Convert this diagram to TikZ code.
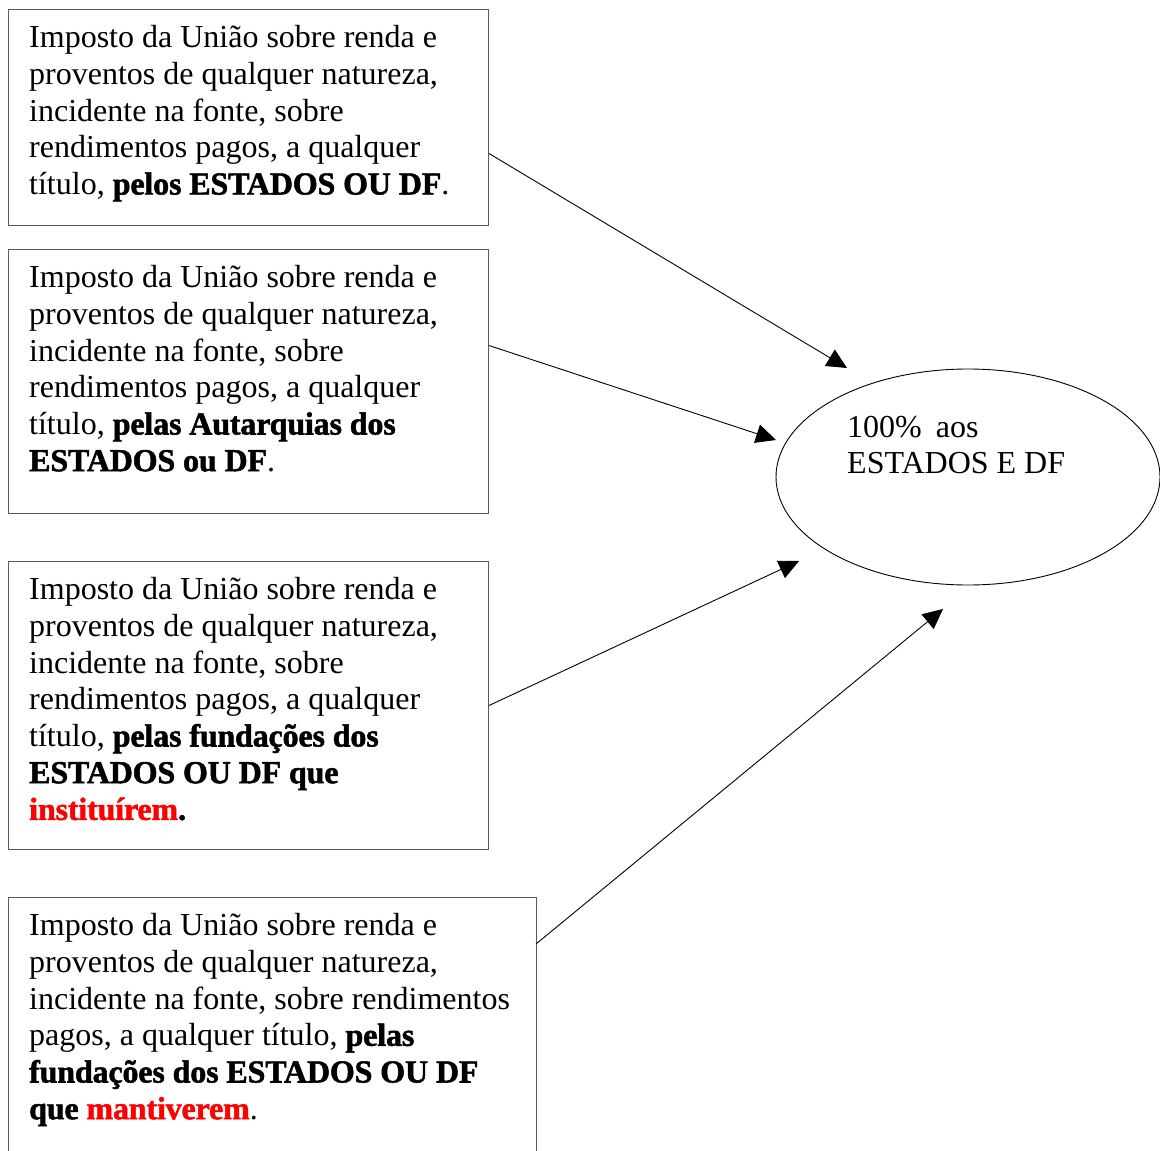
\documentclass[tikz,border=0pt]{standalone}
\usepackage{fontspec}
\setmainfont{Liberation Serif}
\usetikzlibrary{arrows.meta,shapes.geometric}
\definecolor{boxgray}{HTML}{5A5A5A}
\definecolor{redtxt}{HTML}{FF0000}
\newfontface\heavyface{Liberation Serif Bold}[FakeBold=1.6,LetterSpace=-0.5]
\newcommand{\hv}[1]{{\heavyface #1}}
\begin{document}
\begin{tikzpicture}[x=1pt,y=-1pt,
  boxnode/.style={draw=boxgray,line width=1pt,rectangle,anchor=north west,inner sep=0pt},
  txt/.style={anchor=north west,inner sep=0pt,align=left,font=\fontsize{32}{36.7}\selectfont},
  arr/.style={line width=0.9pt,-{Triangle[length=20pt,width=19pt]}}]
\useasboundingbox (0,0) rectangle (1160,1151);
\fill[white] (0,0) rectangle (1160,1151);

% boxes
\node[boxnode,minimum width=480pt,minimum height=216pt] (b1) at (8,9) {};
\node[boxnode,minimum width=480pt,minimum height=264pt] (b2) at (8,249) {};
\node[boxnode,minimum width=480pt,minimum height=288pt] (b3) at (8,561) {};
\node[boxnode,minimum width=528pt,minimum height=280pt] (b4) at (8,897) {};

% texts
\node[txt] (t1) at (29,21.8) {\strut Imposto da União sobre renda e\\proventos de qualquer natureza,\\incidente na fonte, sobre\\rendimentos pagos, a qualquer\\título, \hv{pelos ESTADOS OU DF}.};
\node[txt] (t2) at (29,261.8) {\strut Imposto da União sobre renda e\\proventos de qualquer natureza,\\incidente na fonte, sobre\\rendimentos pagos, a qualquer\\título, \hv{pelas Autarquias dos}\\\hv{ESTADOS ou DF}.};
\node[txt] (t3) at (29,573.8) {\strut Imposto da União sobre renda e\\proventos de qualquer natureza,\\incidente na fonte, sobre\\rendimentos pagos, a qualquer\\título, \hv{pelas fundações dos}\\\hv{ESTADOS OU DF que}\\\hv{\textcolor{redtxt}{instituírem}.}};
\node[txt] (t4) at (29,909.8) {\strut Imposto da União sobre renda e\\proventos de qualquer natureza,\\incidente na fonte, sobre rendimentos\\pagos, a qualquer título, \hv{pelas}\\\hv{fundações dos ESTADOS OU DF}\\\hv{que \textcolor{redtxt}{mantiverem}}.};

% ellipse
\node[draw,line width=0.9pt,ellipse,minimum width=384pt,minimum height=216pt,inner sep=0pt] (e) at (968,477) {};
\node[txt] (et) at (847,411.3) {\strut 100\%\hspace{6pt} aos\\ESTADOS E DF};

% arrow ends
\coordinate (s4) at (536,944);
\coordinate (p1) at (847,368);
\coordinate (p2) at (776,440);
\coordinate (p3) at (799,561);
\coordinate (p4) at (943,609);

\draw[arr] ([yshift=-36pt]b1.east) -- (p1);
\draw[arr] ([yshift=36pt]b2.east) -- (p2);
\draw[arr] (b3.east) -- (p3);
\draw[arr] (s4) -- (p4);
\end{tikzpicture}
\end{document}
